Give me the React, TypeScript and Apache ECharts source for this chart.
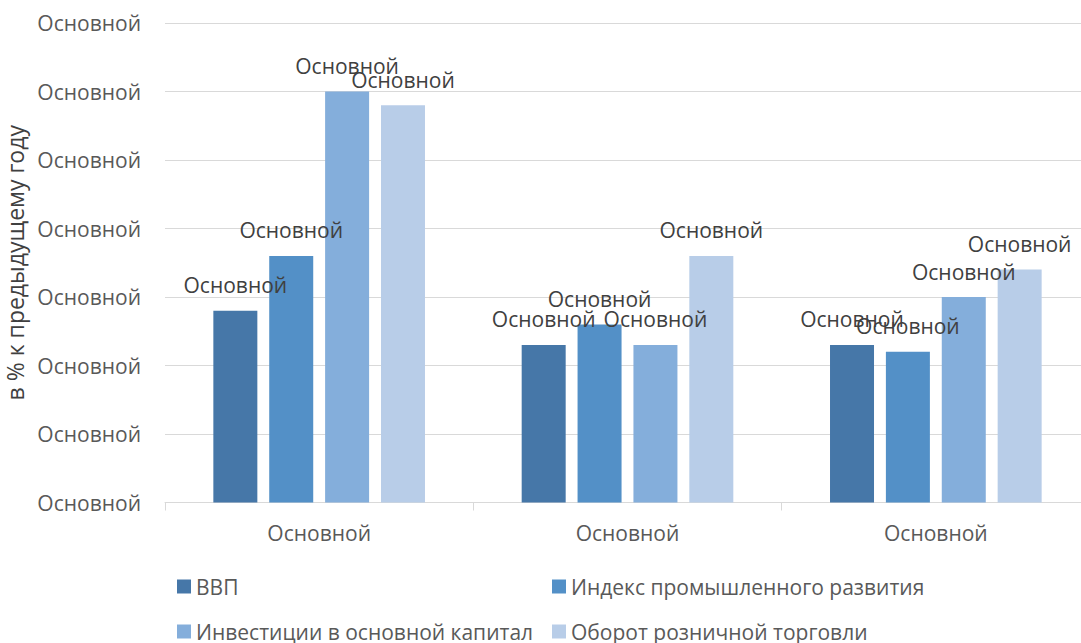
import React, { useEffect, useRef } from "react";
import * as echarts from "echarts";

const categories = ["Основной", "Основной", "Основной"];
const yTickLabel = "Основной";
const dataLabel = "Основной";
const seriesNames = ["ВВП", "Индекс промышленного развития", "Инвестиции в основной капитал", "Оборот розничной торговли"];
const gdp = [2.8, 2.3, 2.3];
const industry = [3.6, 2.6, 2.2];
const investment = [6.0, 2.3, 3.0];
const retail = [5.8, 3.6, 3.4];
const colors = ["#4677A8", "#5390C7", "#84AEDB", "#B8CDE8"];

const FONT = "'Open Sans', 'Noto Sans', sans-serif";

export default function App() {
  const ref = useRef<HTMLDivElement>(null);
  useEffect(() => {
    if (!ref.current) return;
    const chart = echarts.init(ref.current, undefined, { renderer: "svg" });
    const values = [gdp, industry, investment, retail];
    const legendPos = [
      { left: 177, top: 576 },
      { left: 552, top: 576 },
      { left: 177, top: 621 },
      { left: 552, top: 621 },
    ];
    chart.setOption({
      animation: false,
      color: colors,
      textStyle: { fontFamily: FONT },
      grid: { left: 165, top: 23, width: 925, height: 479.5, containLabel: false, outerBoundsMode: "none" },
      legend: seriesNames.map((n, i) => ({
        data: [n],
        left: legendPos[i].left,
        top: legendPos[i].top,
        padding: 0,
        itemWidth: 14,
        itemHeight: 14,
        itemGap: 0,
        icon: "rect",
        selectedMode: false,
        textStyle: { color: "#595959", fontSize: 21, fontFamily: FONT },
      })),
      xAxis: {
        type: "category",
        data: categories,
        axisLine: { lineStyle: { color: "#D9D9D9", width: 1 } },
        axisTick: { show: true, length: 8, lineStyle: { color: "#D9D9D9" } },
        axisLabel: { color: "#595959", fontSize: 21, margin: 20, fontFamily: FONT },
      },
      yAxis: {
        type: "value",
        min: 0,
        max: 7,
        interval: 1,
        name: "в % к предыдущему году",
        nameLocation: "middle",
        nameGap: 132,
        nameRotate: 90,
        nameTextStyle: { color: "#404040", fontSize: 23, fontFamily: FONT },
        axisLine: { show: false },
        axisTick: { show: false },
        splitLine: { lineStyle: { color: "#D9D9D9", width: 1 } },
        axisLabel: { color: "#595959", fontSize: 21, margin: 24, fontFamily: FONT, formatter: () => yTickLabel },
      },
      series: seriesNames.map((n, i) => ({
        name: n,
        type: "bar",
        data: values[i],
        barWidth: 44,
        barGap: "27%",
        itemStyle: { color: colors[i] },
        label: {
          show: true,
          position: "top",
          distance: 15,
          color: "#404040",
          fontSize: 21,
          fontFamily: FONT,
          formatter: () => dataLabel,
        },
      })),
    });
    return () => chart.dispose();
  }, []);
  return <div ref={ref} style={{ position: "fixed", left: 0, top: 0, width: 1081, height: 643, background: "#fff" }} />;
}
